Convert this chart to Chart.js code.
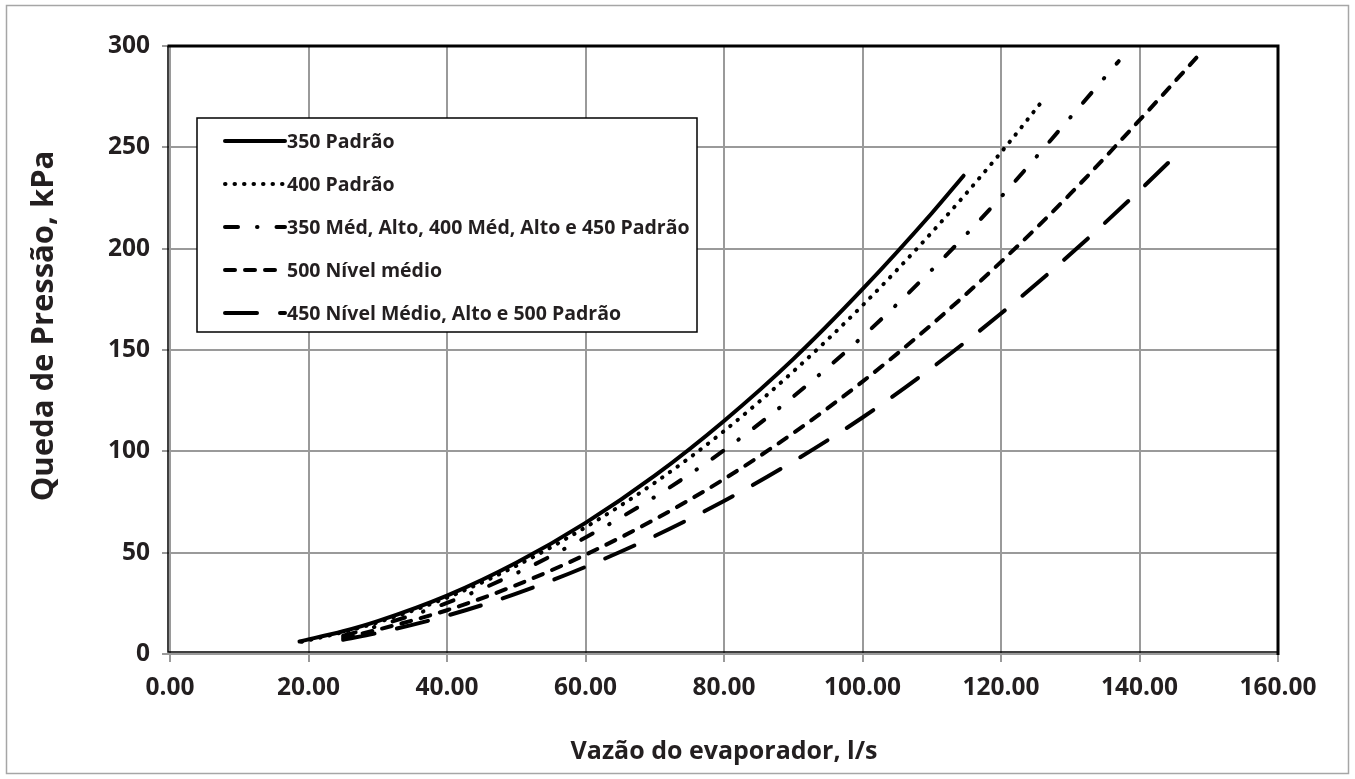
<!DOCTYPE html>
<html lang="pt-BR">
<head>
<meta charset="utf-8">
<title>Queda de Pressão x Vazão do evaporador</title>
<script src="https://cdn.jsdelivr.net/npm/chart.js@4.4.1/dist/chart.umd.min.js"></script>
<style>
    html, body { margin: 0; padding: 0; background: #fff; }
    #wrap { width: 1355px; height: 779px; }
</style>
</head>
<body>
<div id="wrap"><canvas id="pressureChart" width="1355" height="779"></canvas></div>
<script>
// Series names (legend order)
const seriesLabels = [
    '350 Padrão',
    '400 Padrão',
    '350 Méd, Alto, 400 Méd, Alto e 450 Padrão',
    '500 Nível médio',
    '450 Nível Médio, Alto e 500 Padrão'
];

// Flow (l/s) and pressure drop (kPa)
const flow350Padrao = [18.7, 25, 30, 40, 50, 60, 70, 80, 90, 100, 110, 114.6];
const drop350Padrao = [6.2, 11.2, 16.2, 28.8, 45, 64.7, 88, 115, 145.5, 180, 217.5, 236];

const flow400Padrao = [19, 25, 30, 40, 50, 60, 70, 80, 90, 100, 110, 120, 126];
const drop400Padrao = [6, 10.8, 15.6, 27.8, 43.5, 62.5, 84.5, 110, 139.4, 172, 208, 247.5, 273];

const flow350Med = [25, 30, 40, 50, 60, 70, 80, 90, 100, 110, 120, 130, 137];
const drop350Med = [9, 13.8, 25.2, 39.8, 57.5, 77.5, 100.5, 127, 156.6, 189.5, 225.5, 264.7, 292.5];

const flow500Medio = [25, 30, 40, 50, 60, 70, 80, 90, 100, 110, 120, 130, 140, 148.7];
const drop500Medio = [8, 12, 21.6, 34, 49, 66.4, 86.3, 109, 134.4, 162.6, 193.5, 227, 263.4, 296];

const flow450Medio = [25, 30, 40, 50, 60, 70, 80, 90, 100, 110, 120, 130, 140, 146];
const drop450Medio = [7, 10.4, 18.9, 29.8, 43, 58.2, 75.5, 95, 116.7, 141.2, 168, 197.2, 228.7, 248.5];

// Axis ticks
const flowTicks = [0, 20, 40, 60, 80, 100, 120, 140, 160];
const dropTicks = [0, 50, 100, 150, 200, 250, 300];

const yTitle = 'Queda de Pressão, kPa';
const xTitle = 'Vazão do evaporador, l/s';

const textColor = '#231f20';
const fontFamily = '"Open Sans", "Noto Sans", sans-serif';

const toPoints = (xs, ys) => xs.map((x, i) => ({ x: x, y: ys[i] }));

function makeSeries(label, xs, ys, dash) {
    return {
        label: label,
        data: toPoints(xs, ys),
        borderColor: '#000',
        backgroundColor: '#000',
        borderWidth: 4,
        borderDash: dash,
        borderCapStyle: 'round',
        borderJoinStyle: 'round',
        pointRadius: 0,
        showLine: true,
        cubicInterpolationMode: 'monotone'
    };
}

// Plot frame, outer border, y title and the boxed legend inside the plot
const frameAndLegend = {
    id: 'frameAndLegend',
    beforeDraw(chart) {
        const ctx = chart.ctx;
        ctx.save();
        ctx.fillStyle = '#fff';
        ctx.fillRect(0, 0, chart.width, chart.height);
        ctx.strokeStyle = '#a6a6a6';
        ctx.lineWidth = 1.5;
        ctx.strokeRect(6.5, 5.5, chart.width - 13, chart.height - 11);
        ctx.restore();
    },
    afterDatasetsDraw(chart) {
        const { ctx, chartArea: a } = chart;
        ctx.save();

        // frame: heavy top/right, thin dark edge beside the grey axes
        ctx.strokeStyle = '#000';
        ctx.lineWidth = 3;
        ctx.beginPath();
        ctx.moveTo(a.left - 2.5, a.top);
        ctx.lineTo(a.right, a.top);
        ctx.lineTo(a.right, a.bottom + 1);
        ctx.stroke();
        ctx.lineWidth = 1.5;
        ctx.beginPath();
        ctx.moveTo(a.left - 2, a.top);
        ctx.lineTo(a.left - 2, a.bottom - 2);
        ctx.lineTo(a.right, a.bottom - 2);
        ctx.stroke();

        // y axis title (sits a little above the plot centre in the original)
        ctx.save();
        ctx.translate(44, a.top + 280);
        ctx.rotate(-Math.PI / 2);
        ctx.font = 'bold 31px ' + fontFamily;
        ctx.fillStyle = textColor;
        ctx.textAlign = 'center';
        ctx.textBaseline = 'middle';
        ctx.fillText(yTitle, 0, 0);
        ctx.restore();

        // legend box
        const bx = a.left + 27, by = a.top + 72, bw = 500, bh = 214;
        ctx.fillStyle = '#fff';
        ctx.fillRect(bx, by, bw, bh);
        ctx.strokeStyle = '#000';
        ctx.lineWidth = 1.5;
        ctx.strokeRect(bx, by, bw, bh);

        ctx.font = 'bold 19.5px ' + fontFamily;
        ctx.textBaseline = 'middle';
        ctx.textAlign = 'left';
        chart.data.datasets.forEach((ds, i) => {
            const ry = by + 23 + i * 43;
            ctx.strokeStyle = ds.borderColor;
            ctx.lineWidth = ds.borderWidth;
            ctx.lineCap = 'round';
            ctx.setLineDash(ds.borderDash || []);
            ctx.beginPath();
            ctx.moveTo(bx + 28, ry);
            ctx.lineTo(bx + 88, ry);
            ctx.stroke();
            ctx.setLineDash([]);
            ctx.fillStyle = textColor;
            ctx.fillText(ds.label, bx + 90, ry + 1);
        });
        ctx.restore();
    }
};

function initChart() {
    const ctx = document.getElementById('pressureChart').getContext('2d');

    const data = {
        datasets: [
            makeSeries(seriesLabels[0], flow350Padrao, drop350Padrao, []),
            makeSeries(seriesLabels[1], flow400Padrao, drop400Padrao, [0.5, 9]),
            makeSeries(seriesLabels[2], flow350Med, drop350Med, [13, 19, 0.5, 19]),
            makeSeries(seriesLabels[3], flow500Medio, drop500Medio, [10, 10]),
            makeSeries(seriesLabels[4], flow450Medio, drop450Medio, [32, 23])
        ]
    };

    const gridStyle = {
        color: '#9a9a9a',
        lineWidth: 2,
        drawTicks: true,
        tickLength: 8
    };

    const config = {
        type: 'scatter',
        data: data,
        options: {
            responsive: false,
            devicePixelRatio: 1,
            animation: false,
            layout: { padding: { left: 0, right: 77, top: 46, bottom: 0 } },
            plugins: {
                legend: { display: false },
                tooltip: { enabled: false }
            },
            scales: {
                x: {
                    type: 'linear',
                    min: flowTicks[0],
                    max: flowTicks[flowTicks.length - 1],
                    afterBuildTicks: (scale) => { scale.ticks = flowTicks.map(v => ({ value: v })); },
                    afterFit: (scale) => { scale.height = 125; },
                    grid: gridStyle,
                    border: { display: false },
                    ticks: {
                        color: textColor,
                        padding: 11,
                        maxRotation: 0,
                        font: { family: fontFamily, size: 24.5, weight: 'bold' },
                        callback: (v) => Number(v).toFixed(2)
                    },
                    title: {
                        display: true,
                        text: xTitle,
                        color: textColor,
                        padding: { top: 0, bottom: 12 },
                        font: { family: fontFamily, size: 25, weight: 'bold' }
                    }
                },
                y: {
                    type: 'linear',
                    min: dropTicks[0],
                    max: dropTicks[dropTicks.length - 1],
                    afterBuildTicks: (scale) => { scale.ticks = dropTicks.map(v => ({ value: v })); },
                    afterFit: (scale) => { scale.width = 170; },
                    grid: gridStyle,
                    border: { display: false },
                    ticks: {
                        color: textColor,
                        padding: 12,
                        font: { family: fontFamily, size: 24.5, weight: 'bold' }
                    },
                    title: { display: false }
                }
            }
        },
        plugins: [frameAndLegend]
    };

    return new Chart(ctx, config);
}

document.addEventListener('DOMContentLoaded', () => {
    initChart();
});
</script>
</body>
</html>
